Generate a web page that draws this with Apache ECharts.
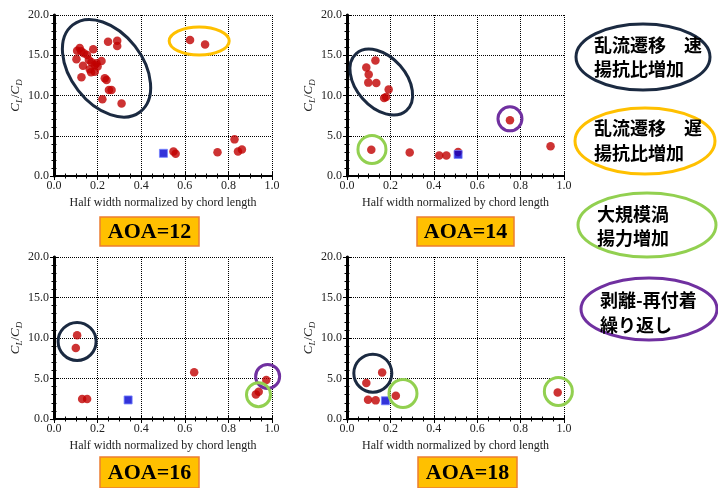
<!DOCTYPE html>
<html><head><meta charset="utf-8">
<script src="https://cdn.jsdelivr.net/npm/echarts@6/dist/echarts.min.js"></script>
<style>html,body{margin:0;padding:0;background:#fff}#c{width:718px;height:488px}</style>
</head><body><div id="c"></div>
<script>
// ---- tick labels ----
const xTickLabels = ['0.0','0.2','0.4','0.6','0.8','1.0'];
const yTickLabels = ['0.0','5.0','10.0','15.0','20.0'];
const panelTitles = ['AOA=12','AOA=14','AOA=16','AOA=18'];
const xAxisTitle = 'Half width normalized by chord length';

// ---- AOA=12 ----
const aoa12X = [0.118,0.248,0.29,0.29,0.106,0.137,0.18,0.103,0.152,0.172,0.218,0.133,0.187,0.164,0.187,0.126,0.233,0.241,0.252,0.264,0.222,0.31,0.125,0.16,0.195,0.2,0.17,0.624,0.693,0.548,0.558,0.75,0.828,0.844,0.862];
const aoa12Y = [15.9,16.68,16.8,16.15,15.57,15.24,15.74,14.5,15.03,14.12,14.29,13.7,13.79,13.25,12.96,12.26,12.13,11.93,10.68,10.68,9.52,9.0,15.5,14.4,14.0,13.6,12.9,16.9,16.35,3.05,2.75,2.94,4.55,3.05,3.3];
const aoa12SqX = [0.502];
const aoa12SqY = [2.82];
// ---- AOA=14 ----
const aoa14X = [0.089,0.131,0.10,0.098,0.135,0.192,0.171,0.18,0.112,0.289,0.425,0.458,0.512,0.751,0.938];
const aoa14Y = [13.48,14.35,12.6,11.6,11.55,10.76,9.69,9.8,3.26,2.93,2.56,2.56,2.97,6.93,3.71];
const aoa14SqX = [0.512];
const aoa14SqY = [2.68];
// ---- AOA=16 ----
const aoa16X = [0.106,0.1,0.129,0.152,0.643,0.974,0.939,0.926];
const aoa16Y = [10.33,8.77,2.47,2.47,5.76,4.81,3.37,3.04];
const aoa16SqX = [0.34];
const aoa16SqY = [2.35];
// ---- AOA=18 ----
const aoa18X = [0.162,0.089,0.097,0.132,0.225,0.971];
const aoa18Y = [5.74,4.43,2.38,2.3,2.87,3.28];
const aoa18SqX = [0.177];
const aoa18SqY = [2.25];

// ---- annotation ring centres (data coords) ----
const rings12 = [[0.241,13.38],[0.666,16.77]];
const rings14 = [[0.158,11.67],[0.115,3.3],[0.751,7.1]];
const rings16 = [[0.106,9.58],[0.98,5.26],[0.938,3.0]];
const rings18 = [[0.119,5.66],[0.258,3.15],[0.974,3.4]];

// ---- legend texts ----
const legendTexts = ['乱流遷移　速\n揚抗比増加','乱流遷移　遅\n揚抗比増加','大規模渦\n揚力増加','剥離-再付着\n繰り返し'];

const NAVY='#1b2a41', ORANGE='#ffc000', GREEN='#92d050', PURPLE='#7030a0';
const ringStyles = [
  [{rx:55,ry:36,rot:-0.91,c:NAVY},{rx:30,ry:14,rot:0,c:ORANGE}],
  [{rx:38,ry:25,rot:-0.85,c:NAVY},{rx:14,ry:14,rot:0,c:GREEN},{rx:12,ry:12,rot:0,c:PURPLE}],
  [{rx:19,ry:19,rot:0,c:NAVY},{rx:12,ry:12,rot:0,c:PURPLE},{rx:12,ry:12,rot:0,c:GREEN}],
  [{rx:19,ry:19,rot:0,c:NAVY},{rx:14,ry:14,rot:0,c:GREEN},{rx:14,ry:14,rot:0,c:GREEN}]
];

const panels = [
  {x:aoa12X,y:aoa12Y,sx:aoa12SqX,sy:aoa12SqY,rings:rings12},
  {x:aoa14X,y:aoa14Y,sx:aoa14SqX,sy:aoa14SqY,rings:rings14},
  {x:aoa16X,y:aoa16Y,sx:aoa16SqX,sy:aoa16SqY,rings:rings16},
  {x:aoa18X,y:aoa18Y,sx:aoa18SqX,sy:aoa18SqY,rings:rings18}
];
const grids = [
  {left:54,top:15,width:218,height:161},
  {left:347,top:15,width:217,height:161},
  {left:54,top:257,width:218,height:162},
  {left:347,top:257,width:217,height:162}
];
const SERIF = '"Liberation Serif","Times New Roman",serif';
const zip = (a,b)=>a.map((v,i)=>[v,b[i]]);

const xAxes=[], yAxes=[], series=[];
grids.forEach((g,i)=>{
  const lineS = {show:true, lineStyle:{color:'#000',width:2}};
  const tick = {show:true, inside:true, length:4, lineStyle:{color:'#000',width:1}};
  const minor = {show:true, splitNumber:4, length:2.5, lineStyle:{color:'#000',width:1}};
  const minorY = {show:true, splitNumber:5, length:2.5, lineStyle:{color:'#000',width:1}};
  const dotted = {show:true,lineStyle:{color:'#000',type:[1,1],width:1}};
  xAxes.push({gridIndex:i, type:'value', min:0, max:1, interval:0.2, position:'bottom',
    axisLine:lineS, axisTick:tick, minorTick:minor, splitLine:dotted,
    axisLabel:{margin:4, color:'#222', fontFamily:SERIF, fontSize:12, formatter:v=>xTickLabels[Math.round(v/0.2)]},
    name:xAxisTitle, nameLocation:'middle', nameGap:21,
    nameTextStyle:{fontFamily:SERIF,fontSize:12,color:'#222'}});
  xAxes.push({gridIndex:i, type:'value', min:0, max:1, interval:0.2, position:'top',
    axisLine:{show:true,lineStyle:{color:'#000',width:1.5}}, axisTick:tick, minorTick:minor, axisLabel:{show:false}, splitLine:{show:false}});
  yAxes.push({gridIndex:i, type:'value', min:0, max:20, interval:5, position:'left',
    axisLine:lineS, axisTick:tick, minorTick:minorY, splitLine:dotted,
    axisLabel:{margin:5, color:'#222', fontFamily:SERIF, fontSize:12, formatter:v=>yTickLabels[Math.round(v/5)]},
    name:'{i|C}{s|L}{n|/}{i|C}{s|D}', nameLocation:'middle', nameGap:27,
    nameTextStyle:{fontFamily:SERIF,color:'#222',
      rich:{i:{fontFamily:SERIF,fontStyle:'italic',fontSize:13,color:'#222',lineHeight:16,verticalAlign:'top'},
            n:{fontFamily:SERIF,fontSize:13,color:'#222',lineHeight:16,verticalAlign:'top'},
            s:{fontFamily:SERIF,fontStyle:'italic',fontSize:9,color:'#222',lineHeight:16,padding:[6,0,0,0],verticalAlign:'top'}}}});
  yAxes.push({gridIndex:i, type:'value', min:0, max:20, interval:5, position:'right',
    axisLine:{show:true,lineStyle:{color:'#000',width:3}}, axisTick:tick, minorTick:minorY, axisLabel:{show:false}, splitLine:{show:false}});
  const p = panels[i];
  series.push({type:'scatter', xAxisIndex:2*i, yAxisIndex:2*i, data:zip(p.x,p.y), symbol:'circle', symbolSize:8.5,
    itemStyle:{color:'#c00000'}, z:3, silent:true});
  series.push({type:'scatter', xAxisIndex:2*i, yAxisIndex:2*i, data:zip(p.sx,p.sy), symbol:'rect', symbolSize:8,
    itemStyle:{color:'#0000d0', borderColor:'#7080ff', borderWidth:1}, z:4, silent:true});
  const st = ringStyles[i];
  series.push({type:'custom', xAxisIndex:2*i, yAxisIndex:2*i, data:p.rings, z:6, silent:true, clip:false,
    renderItem:(params, api)=>{
      const c = api.coord([api.value(0), api.value(1)]);
      const s = st[params.dataIndex];
      return {type:'ellipse', x:c[0], y:c[1], rotation:s.rot, shape:{cx:0,cy:0,rx:s.rx,ry:s.ry},
        style:{fill:'none', stroke:s.c, lineWidth:3}};
    }});
});

const boxes = [
  {x:100,y:217,w:99,h:29},{x:417,y:217,w:97,h:29},{x:100,y:457,w:99,h:31},{x:418,y:457,w:99,h:31}
];
const graphics = [];
boxes.forEach((b,i)=>{
  graphics.push({type:'rect', shape:{x:b.x,y:b.y,width:b.w,height:b.h}, style:{fill:'#ffc000',stroke:'#ed7d31',lineWidth:1.5}, z:10});
  graphics.push({type:'text', x:b.x+b.w/2, y:b.y+b.h/2+1, style:{text:panelTitles[i], fill:'#000', font:'bold 22px '+SERIF, textAlign:'center', textVerticalAlign:'middle'}, z:11});
});
const legendPos = [
  {cx:643,cy:57,rx:67,ry:33,c:NAVY,tx:594,ty:33,lh:24},
  {cx:645,cy:141,rx:70,ry:33,c:ORANGE,tx:594,ty:116,lh:25},
  {cx:647,cy:225,rx:69,ry:32,c:GREEN,tx:597,ty:202,lh:24},
  {cx:649,cy:309,rx:68,ry:31,c:PURPLE,tx:600,ty:288,lh:25}
];
legendPos.forEach((l,i)=>{
  graphics.push({type:'ellipse', shape:{cx:l.cx,cy:l.cy,rx:l.rx,ry:l.ry}, style:{fill:'none',stroke:l.c,lineWidth:3}, z:10});
  graphics.push({type:'text', x:l.tx, y:l.ty, style:{text:legendTexts[i], fill:'#000', fontFamily:'"Noto Sans CJK JP"', fontWeight:'bold', fontSize:18, lineHeight:l.lh, textAlign:'left', textVerticalAlign:'top'}, z:11});
});

const chart = echarts.init(document.getElementById('c'), null, {renderer:'canvas'});
chart.setOption({animation:false, backgroundColor:'#fff', grid:grids, xAxis:xAxes, yAxis:yAxes, series:series, graphic:graphics});
</script></body></html>
